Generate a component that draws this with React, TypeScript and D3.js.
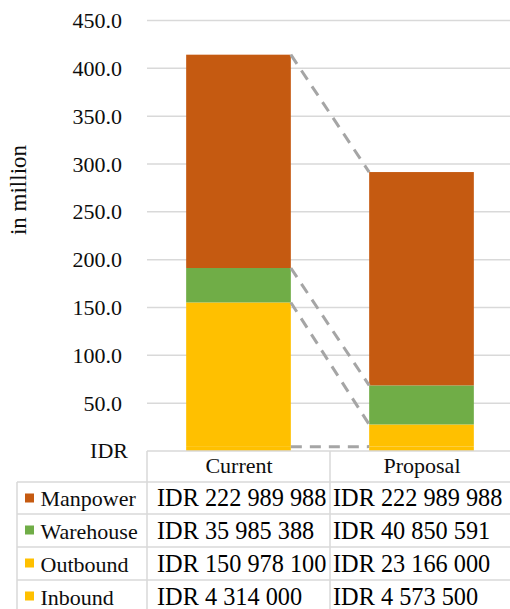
import React from "react";
import * as d3 from "d3";

const categories = ["Current", "Proposal"];
const seriesNames = ["Inbound", "Outbound", "Warehouse", "Manpower"];
const inbound = [4314000, 4573500];
const outbound = [150978100, 23166000];
const warehouse = [35985388, 40850591];
const manpower = [222989988, 222989988];
const yTicks = [50, 100, 150, 200, 250, 300, 350, 400, 450];
const colors: Record<string, string> = {
  Inbound: "#FFC000",
  Outbound: "#FFC000",
  Warehouse: "#70AD47",
  Manpower: "#C55A11",
};

const W = 510;
const H = 609;
const FONT = "Liberation Serif";

export default function App() {
  const rows = categories.map((c, i) => ({
    cat: c,
    Inbound: inbound[i] / 1e6,
    Outbound: outbound[i] / 1e6,
    Warehouse: warehouse[i] / 1e6,
    Manpower: manpower[i] / 1e6,
  }));
  const raw: Record<string, number[]> = {
    Inbound: inbound,
    Outbound: outbound,
    Warehouse: warehouse,
    Manpower: manpower,
  };
  const stack = d3.stack<any>().keys(seriesNames)(rows as any);

  const plotLeft = 147;
  const plotRight = 513;
  const baseY = 451;
  const y = d3.scaleLinear().domain([0, 450]).range([baseY, 20.5]);
  const x = d3.scaleBand<string>().domain(categories).range([plotLeft, plotRight]).padding(0);
  const barW = x.bandwidth() * 0.572;
  const barX = (c: string) => (x(c) as number) + (x.bandwidth() - barW) / 2;

  const fmtIDR = (v: number) => "IDR " + d3.format(",")(v).replace(/,/g, " ");
  const tableRows = [...seriesNames].reverse();
  const rowTops = [482, 514, 547, 580];
  const rowH = [32, 33, 33, 33];
  const gridColor = "#D9D9D9";
  const ts = { fontFamily: FONT };
  const textColor = "#0d0d0d";

  return (
    <svg
      width={W}
      height={H}
      style={{ position: "absolute", left: 0, top: 0, display: "block", background: "#fff", fontFamily: FONT }}
    >
      {/* gridlines */}
      {yTicks.map((t) => (
        <line key={t} x1={plotLeft} x2={W} y1={y(t)} y2={y(t)} stroke={gridColor} strokeWidth={1.5} />
      ))}
      {/* tick labels */}
      {yTicks.map((t) => (
        <text key={"l" + t} x={122} y={y(t) + 7.5} textAnchor="end" fontSize={22} fill={textColor} style={ts}>
          {d3.format(".1f")(t)}
        </text>
      ))}
      <text x={128} y={458} textAnchor="end" fontSize={22} fill={textColor} style={ts}>IDR</text>
      <text
        transform={`translate(26,190) rotate(-90)`}
        textAnchor="middle"
        fontSize={23}
        fill={textColor}
        style={ts}
      >
        in million
      </text>

      {/* bars */}
      {stack.map((s) => (
        <g key={s.key}>
          {s.map((d, i) => (
            <rect
              key={i}
              x={barX(categories[i])}
              width={barW}
              y={y(d[1])}
              height={y(d[0]) - y(d[1])}
              fill={colors[s.key]}
            />
          ))}
        </g>
      ))}

      {/* series lines */}
      {stack.map((s) => (
        <line
          key={"sl" + s.key}
          x1={barX(categories[0]) + barW}
          y1={y(s[0][1])}
          x2={barX(categories[1])}
          y2={y(s[1][1])}
          stroke="#A5A5A5"
          strokeWidth={3}
          strokeDasharray="11 8"
        />
      ))}

      {/* data table */}
      <g stroke={gridColor} strokeWidth={1.5}>
        <line x1={plotLeft} x2={W} y1={baseY} y2={baseY} />
        <line x1={plotLeft} x2={plotLeft} y1={baseY} y2={H} />
        <line x1={x(categories[1]) as number} x2={x(categories[1]) as number} y1={baseY} y2={H} />
        <line x1={17} x2={17} y1={rowTops[0]} y2={H} />
        {rowTops.map((t) => (
          <line key={t} x1={17} x2={W} y1={t} y2={t} />
        ))}
      </g>
      {categories.map((c) => (
        <text
          key={"h" + c}
          x={(x(c) as number) + 92}
          y={473}
          textAnchor="middle"
          fontSize={22}
          fill={textColor}
          style={ts}
        >
          {c}
        </text>
      ))}
      {tableRows.map((name, r) => {
        const base = rowTops[r] + rowH[r] - 8.5;
        return (
          <g key={name}>
            <rect x={25} y={rowTops[r] + 11.5} width={9} height={9} fill={colors[name]} />
            <text x={40.5} y={base} fontSize={22} fill={textColor} style={ts}>
              {name}
            </text>
            {categories.map((c, i) => (
              <text
                key={c}
                x={(x(c) as number) + (i === 0 ? 10 : 3)}
                y={base}
                fontSize={24.3}
                fill="#000"
                style={ts}
              >
                {fmtIDR(raw[name][i])}
              </text>
            ))}
          </g>
        );
      })}
    </svg>
  );
}
